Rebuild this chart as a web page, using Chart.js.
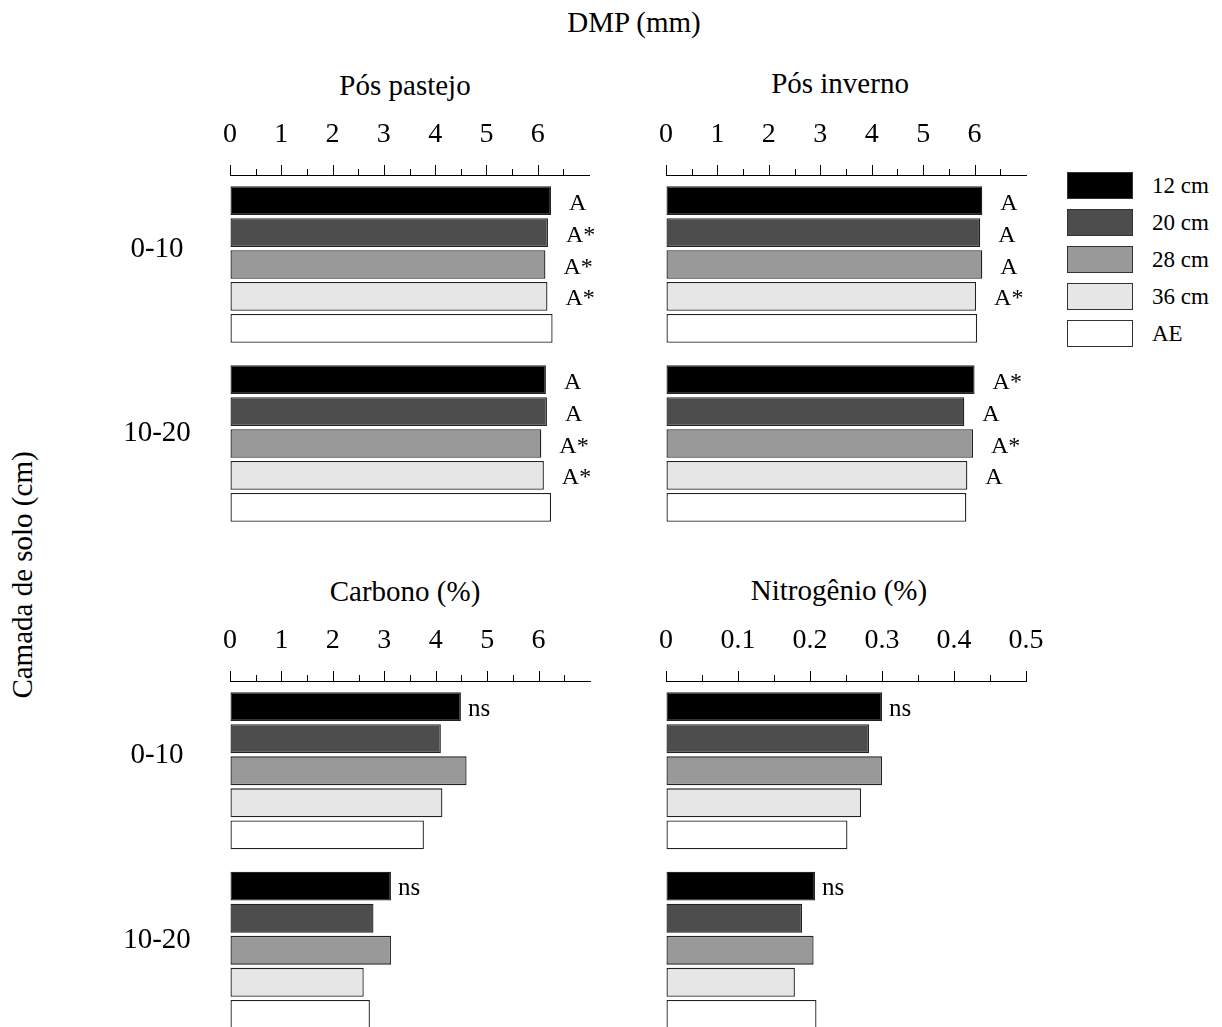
<!DOCTYPE html>
<html>
<head>
<meta charset="utf-8">
<script src="https://cdn.jsdelivr.net/npm/chart.js@4.4.1/dist/chart.umd.min.js"></script>
<style>
  html, body { margin: 0; padding: 0; background: #fff; overflow: hidden; }
  body { width: 1222px; height: 1027px; position: relative; font-family: 'Liberation Serif', 'Times New Roman', serif; color: #000; }
  canvas { position: absolute; }
  .txt { position: absolute; white-space: nowrap; transform: translate(-50%, -50%); line-height: 1; }
  #ytitle { left: 22px; top: 575px; transform: translate(-50%, -50%) rotate(-90deg); }
  .legend { position: absolute; left: 1067px; top: 172px; }
  .legend .row { height: 37px; width: 150px; position: relative; }
  .legend .box { position: absolute; left: 0; top: 0; width: 64px; height: 25px; border: 1px solid #333; }
  .legend .lab { position: absolute; left: 85px; top: 13px; transform: translateY(-50%); font-size: 23px; line-height: 1; white-space: nowrap; }
</style>
</head>
<body>

<div class="txt" style="left:634px; top:22px; font-size:29px;">DMP (mm)</div>
<div class="txt" style="left:405px; top:85px; font-size:29px;">Pós pastejo</div>
<div class="txt" style="left:840px; top:83px; font-size:29px;">Pós inverno</div>
<div class="txt" style="left:405px; top:591px; font-size:29px;">Carbono (%)</div>
<div class="txt" style="left:839px; top:590px; font-size:29px;">Nitrogênio (%)</div>
<div class="txt" id="ytitle" style="font-size:29px;">Camada de solo (cm)</div>

<div class="legend" id="legend"></div>

<canvas id="cPastejo" width="540" height="460" style="left:100px; top:100px;"></canvas>
<canvas id="cInverno" width="440" height="460" style="left:630px; top:100px;"></canvas>
<canvas id="cCarbono" width="540" height="460" style="left:100px; top:600px;"></canvas>
<canvas id="cNitro" width="440" height="460" style="left:630px; top:600px;"></canvas>

<script>
// soil layers (cm) and sward height treatments
const layers = ['0-10', '10-20'];
const treatments = ['12 cm', '20 cm', '28 cm', '36 cm', 'AE'];
const fills = ['#000000', '#4d4d4d', '#999999', '#e6e6e6', '#ffffff'];

// DMP (mm) after grazing
const pastejo010 = [6.26, 6.20, 6.15, 6.19, 6.29];
const pastejo1020 = [6.16, 6.18, 6.07, 6.12, 6.26];
const pastejoLetras010 = ['A', 'A*', 'A*', 'A*', ''];
const pastejoLetras1020 = ['A', 'A', 'A*', 'A*', ''];

// DMP (mm) after winter
const inverno010 = [6.15, 6.11, 6.15, 6.03, 6.05];
const inverno1020 = [6.00, 5.80, 5.97, 5.86, 5.84];
const invernoLetras010 = ['A', 'A', 'A', 'A*', ''];
const invernoLetras1020 = ['A*', 'A', 'A*', 'A', ''];

// carbon (%)
const carbono010 = [4.49, 4.10, 4.60, 4.13, 3.77];
const carbono1020 = [3.13, 2.79, 3.13, 2.60, 2.72];
const carbonoLetras010 = ['ns', '', '', '', ''];
const carbonoLetras1020 = ['ns', '', '', '', ''];

// nitrogen (%)
const nitro010 = [0.300, 0.282, 0.300, 0.271, 0.252];
const nitro1020 = [0.207, 0.189, 0.205, 0.179, 0.209];
const nitroLetras010 = ['ns', '', '', '', ''];
const nitroLetras1020 = ['ns', '', '', '', ''];

const SERIF = "'Liberation Serif', 'Times New Roman', serif";

// legend on the right
const legendEl = document.getElementById('legend');
treatments.forEach((t, i) => {
  const row = document.createElement('div');
  row.className = 'row';
  row.innerHTML = `<div class="box" style="background:${fills[i]}"></div><div class="lab">${t}</div>`;
  legendEl.appendChild(row);
});

// tick marks pointing up from the top axis, depth labels, significance letters
const layerNudge = [-15, -10];
const panelDecor = {
  id: 'panelDecor',
  afterDraw(chart, args, opts) {
    const { ctx, scales: { x, y }, chartArea } = chart;
    ctx.save();
    ctx.strokeStyle = '#000';
    ctx.lineWidth = 1;
    x.ticks.forEach(t => {
      if (t.value > opts.lastTick + 1e-9) return;
      const px = Math.round(x.getPixelForValue(t.value)) + 0.5;
      const len = opts.isMajor(t.value) ? 10 : 6;
      ctx.beginPath();
      ctx.moveTo(px, x.bottom);
      ctx.lineTo(px, x.bottom - len);
      ctx.stroke();
    });

    ctx.fillStyle = '#000';
    if (opts.showLayers) {
      ctx.font = '29px ' + SERIF;
      ctx.textAlign = 'center';
      ctx.textBaseline = 'middle';
      layers.forEach((l, i) => {
        ctx.fillText(l, chartArea.left - 73, y.getPixelForValue(i) + layerNudge[i]);
      });
    }

    ctx.font = opts.letterFont + 'px ' + SERIF;
    ctx.textAlign = 'left';
    ctx.textBaseline = 'alphabetic';
    chart.data.datasets.forEach((ds, di) => {
      chart.getDatasetMeta(di).data.forEach((bar, gi) => {
        const txt = opts.letters[gi][di];
        if (txt) ctx.fillText(txt, bar.x + opts.gap, bar.y + 9);
      });
    });
    ctx.restore();
  }
};

function makePanel(id, a010, a1020, letters, cfg) {
  new Chart(document.getElementById(id), {
    type: 'bar',
    data: {
      labels: layers,
      datasets: treatments.map((t, i) => ({
        label: t,
        data: [a010[i], a1020[i]],
        backgroundColor: fills[i],
        borderColor: '#222',
        borderWidth: 1.3,
        borderSkipped: false,
        categoryPercentage: 0.892,
        barPercentage: 0.9
      }))
    },
    options: {
      indexAxis: 'y',
      responsive: false,
      animation: false,
      events: [],
      layout: { padding: cfg.padding },
      plugins: {
        legend: { display: false },
        tooltip: { enabled: false },
        panelDecor: {
          letters: letters,
          gap: cfg.gap,
          letterFont: cfg.letterFont,
          lastTick: cfg.lastTick,
          isMajor: cfg.isMajor,
          showLayers: cfg.showLayers
        }
      },
      scales: {
        x: {
          position: 'top',
          min: 0,
          max: cfg.max,
          afterFit: s => { s.height = 60; },
          grid: { display: true, drawOnChartArea: false, drawTicks: false },
          border: { display: true, color: '#000', width: 1 },
          ticks: {
            stepSize: cfg.step,
            autoSkip: false,
            maxRotation: 0,
            minRotation: 0,
            padding: 24,
            color: '#000',
            font: { family: SERIF, size: 28 },
            callback: cfg.label
          }
        },
        y: { display: false }
      }
    },
    plugins: [panelDecor]
  });
}

const intLabel = v => (Math.abs(v - Math.round(v)) < 1e-6 && v <= 6 ? String(Math.round(v)) : '');
const intMajor = v => Math.abs(v - Math.round(v)) < 1e-6;
const tenthMajor = v => Math.abs(v * 10 - Math.round(v * 10)) < 1e-6;
const tenthLabel = v => (tenthMajor(v) ? (v === 0 ? '0' : (Math.round(v * 10) / 10).toFixed(1)) : '');

makePanel('cPastejo', pastejo010, pastejo1020, [pastejoLetras010, pastejoLetras1020], {
  padding: { left: 130, right: 51, top: 15, bottom: 27 },
  max: 7, step: 0.5, lastTick: 6.5, isMajor: intMajor, label: intLabel,
  gap: 18, letterFont: 24, showLayers: true
});
makePanel('cInverno', inverno010, inverno1020, [invernoLetras010, invernoLetras1020], {
  padding: { left: 36, right: 44, top: 15, bottom: 27 },
  max: 7, step: 0.5, lastTick: 6.5, isMajor: intMajor, label: intLabel,
  gap: 18, letterFont: 24, showLayers: false
});
makePanel('cCarbono', carbono010, carbono1020, [carbonoLetras010, carbonoLetras1020], {
  padding: { left: 130, right: 50, top: 21, bottom: 20 },
  max: 7, step: 0.5, lastTick: 6.5, isMajor: intMajor, label: intLabel,
  gap: 7, letterFont: 25, showLayers: true
});
makePanel('cNitro', nitro010, nitro1020, [nitroLetras010, nitroLetras1020], {
  padding: { left: 36, right: 44, top: 21, bottom: 20 },
  max: 0.5, step: 0.05, lastTick: 0.5, isMajor: tenthMajor, label: tenthLabel,
  gap: 7, letterFont: 25, showLayers: false
});
</script>
</body>
</html>
